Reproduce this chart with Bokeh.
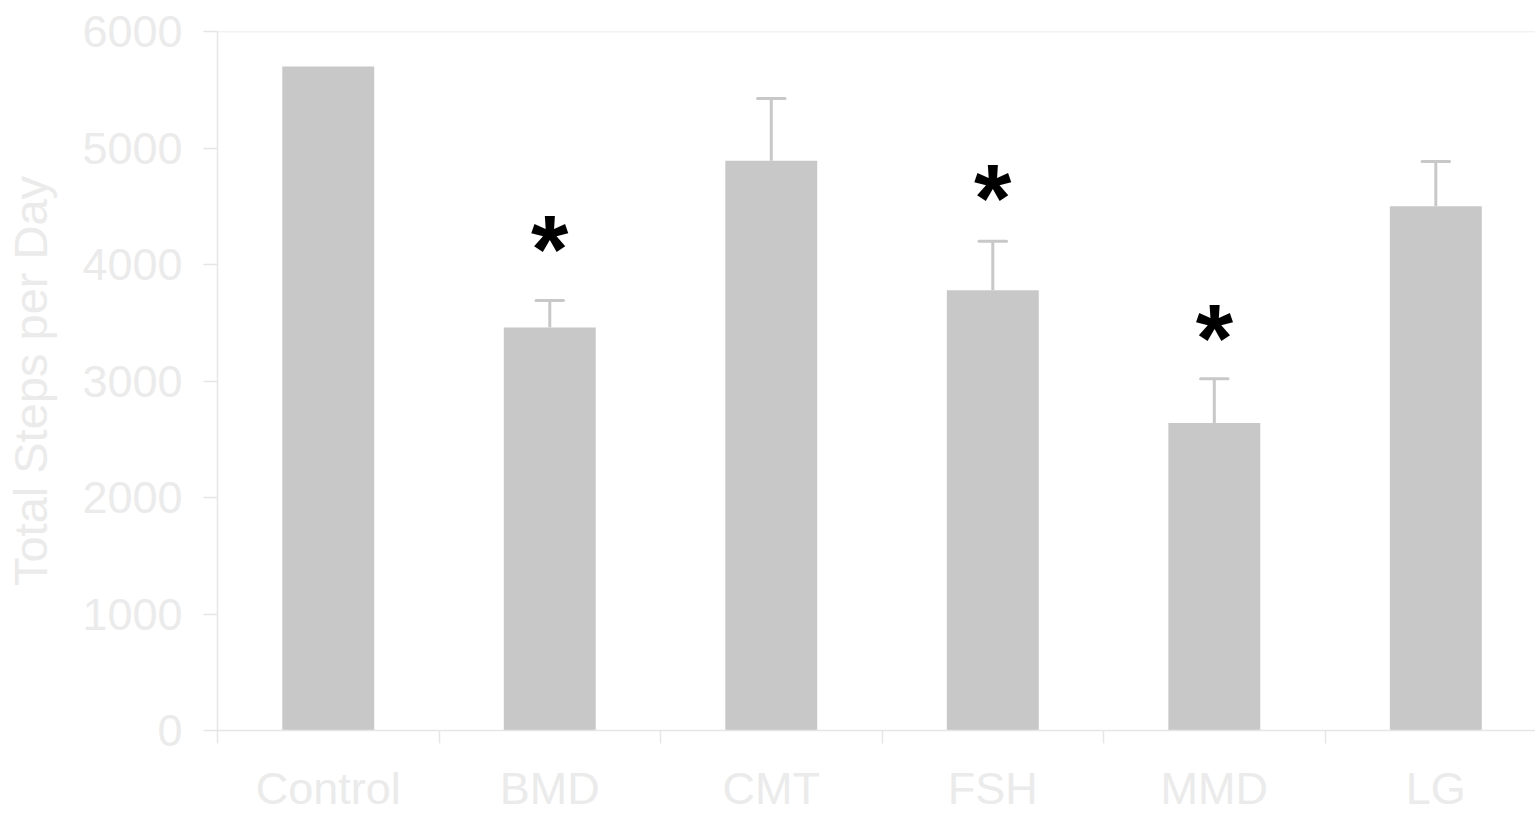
from bokeh.plotting import figure
from bokeh.models import FixedTicker, Range1d, Span, ColumnDataSource
from bokeh.core.properties import value
from bokeh.embed import file_html
from bokeh.resources import INLINE

groups = ["Control", "BMD", "CMT", "FSH", "MMD", "LG"]
steps = [5700, 3460, 4890, 3780, 2640, 4500]
sem = [0, 230, 535, 420, 380, 385]
# significance markers (*): group and height of the asterisk in steps/day
star_groups = ["BMD", "FSH", "MMD"]
star_level = [4135, 4575, 3375]
y_ticks = [0, 1000, 2000, 3000, 4000, 5000, 6000]

FONT = "Liberation Sans"
TXT = "#ebebeb"
AX = "#e6e6e6"
BAR = "#c8c8c8"

xs = [i + 0.5 for i in range(len(groups))]
xpos = dict(zip(groups, xs))

p = figure(width=1535, height=816, output_backend="svg", toolbar_location=None,
           x_range=Range1d(0, 5.95), y_range=Range1d(0, 6000),
           min_border_left=217, min_border_top=31, min_border_right=0, min_border_bottom=86)
p.outline_line_color = None
p.grid.visible = False
p.background_fill_color = "white"
p.border_fill_color = "white"

src = ColumnDataSource(dict(x=xs, top=steps))
p.vbar(x="x", top="top", width=0.415, source=src, fill_color=BAR, line_color=None)

ex = [x for x, e in zip(xs, sem) if e > 0]
eb = [t for t, e in zip(steps, sem) if e > 0]
et = [t + e for t, e in zip(steps, sem) if e > 0]
p.segment(x0=ex, y0=eb, x1=ex, y1=et, line_color=BAR, line_width=3)
p.segment(x0=[x - 0.062 for x in ex], y0=et, x1=[x + 0.062 for x in ex], y1=et,
          line_color=BAR, line_width=3, line_cap="round")

p.text(x=[xpos[g] for g in star_groups], y=star_level, text=["*"] * len(star_groups),
       text_font=value(FONT), text_font_size="96px", text_font_style="bold",
       text_color="black", text_align="center", text_baseline="middle")

p.add_layout(Span(location=6000, dimension="width", line_color=AX, line_width=1.5))

# x axis
xa = p.xaxis[0]
xa.ticker = FixedTicker(ticks=xs, minor_ticks=list(range(0, 7)))
xa.major_label_overrides = {x: g for x, g in zip(xs, groups)}
xa.major_tick_out = 0
xa.major_tick_in = 0
xa.minor_tick_out = 13
xa.minor_tick_in = 0
xa.minor_tick_line_color = AX
xa.minor_tick_line_width = 1.5
xa.axis_line_color = AX
xa.axis_line_width = 1.5
xa.major_label_text_font = FONT
xa.major_label_text_font_size = "45px"
xa.major_label_text_line_height = 1.0
xa.major_label_text_color = TXT
xa.major_label_standoff = 19

# y axis
ya = p.yaxis[0]
ya.ticker = FixedTicker(ticks=y_ticks)
ya.minor_tick_line_color = None
ya.major_tick_out = 14
ya.major_tick_in = 0
ya.major_tick_line_color = AX
ya.major_tick_line_width = 1.5
ya.axis_line_color = AX
ya.axis_line_width = 1.5
ya.major_label_text_font = FONT
ya.major_label_text_font_size = "45px"
ya.major_label_text_color = TXT
ya.major_label_standoff = 21
ya.axis_label = "Total Steps per Day"
ya.axis_label_text_font = FONT
ya.axis_label_text_font_size = "47px"
ya.axis_label_text_font_style = "normal"
ya.axis_label_text_color = TXT
ya.axis_label_standoff = 22

open("out.html", "w").write(file_html(p, INLINE))
